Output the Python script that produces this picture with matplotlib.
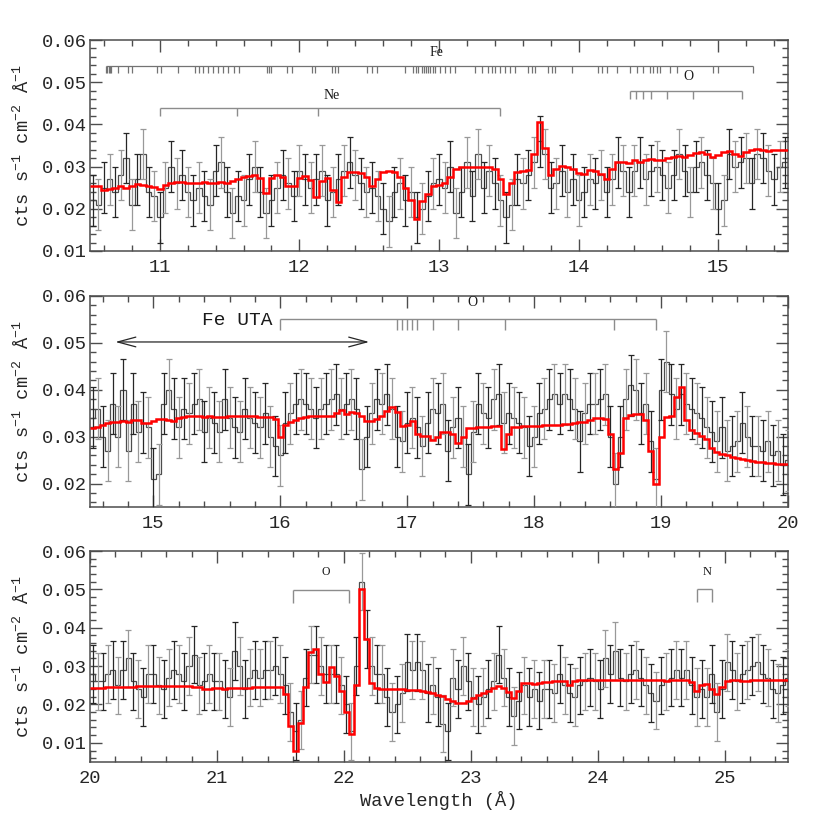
import numpy as np
import matplotlib
matplotlib.use("Agg")
import matplotlib.pyplot as plt
import matplotlib.transforms as mtrans
from matplotlib.ticker import MultipleLocator, FormatStrFormatter

plt.rcParams['font.family'] = ['Liberation Mono', 'DejaVu Sans']
plt.rcParams['mathtext.fontset'] = 'custom'
plt.rcParams['mathtext.rm'] = 'Liberation Mono'
plt.rcParams['mathtext.it'] = 'Liberation Mono'
plt.rcParams['mathtext.default'] = 'rm'

BIN = 0.04  # Angstrom per bin

# ---- panel 1: 10.5 - 15.5 A  (fluxes in 1e-3 cts/s/cm2/A)
start1 = 10.5
flux1 = [22, 21, 25, 27, 24, 28, 32, 21, 27, 33,
         24, 23, 18, 25, 30, 26, 28, 24, 22, 25,
         23, 21, 29, 31, 24, 19, 23, 22, 27, 30,
         24, 19, 22, 25, 28, 26, 23, 29, 27, 25,
         27, 29, 22, 24, 27, 29, 31, 28, 26, 24,
         25, 23, 20, 17, 24, 26, 22, 24, 18, 20,
         23, 26, 27, 25, 30, 19, 24, 31, 23, 33,
         25, 29, 26, 22, 18, 21, 27, 26, 28, 31,
         36, 33, 25, 26, 29, 24, 27, 22, 24, 27,
         26, 28, 24, 27, 31, 29, 24, 29, 31, 27,
         29, 30, 28, 25, 28, 33, 29, 24, 30, 31,
         28, 26, 20, 22, 33, 30, 31, 32, 26, 33,
         32, 29, 27, 30, 31]
model1 = [25.5, 25.3, 24.4, 24.7, 25.0, 25.3, 25.0, 25.5, 25.8, 25.7,
          25.4, 25.2, 24.6, 25.6, 26.2, 26.3, 26.3, 26.1, 26.0, 26.2,
          26.3, 26.0, 26.2, 26.3, 26.2, 26.5, 27.0, 27.5, 27.8, 28.0,
          27.2, 23.8, 27.2, 28.0, 27.5, 25.5, 25.3, 27.3, 27.8, 26.8,
          22.8, 26.5, 27.2, 24.5, 21.5, 27.5, 28.8, 28.8, 28.6, 27.5,
          25.5, 27.0, 28.8, 29.0, 28.8, 27.5, 25.0, 22.0, 17.6, 21.8,
          23.5, 25.5, 25.6, 26.0, 27.5, 29.5, 30.0, 30.0, 30.0, 30.0,
          30.0, 29.8, 29.5, 27.0, 23.5, 26.0, 28.8, 29.0, 29.2, 33.0,
          40.5, 34.5, 28.0, 29.5, 30.2, 30.0, 29.5, 28.5, 28.2, 29.2,
          29.0, 28.2, 27.0, 29.5, 31.0, 31.2, 30.8, 31.5, 31.2, 31.5,
          31.8, 31.5, 31.6, 32.0, 32.3, 32.5, 32.3, 32.8, 33.2, 33.4,
          33.0, 32.2, 32.8, 33.5, 33.8, 33.0, 32.4, 33.4, 34.0, 34.2,
          34.0, 33.8, 34.0, 34.0, 34.0]
err1 = 6.0

# ---- panel 2: 14.5 - 20 A
start2 = 14.5
flux2 = [34, 36, 30, 27, 37, 30, 40, 27, 37, 31,
         33, 32, 21, 22, 37, 40, 36, 32, 36, 35,
         37, 38, 31, 34, 33, 31, 38, 34, 32, 31,
         36, 34, 33, 32, 35, 30, 28, 26, 33, 35,
         37, 38, 37, 36, 34, 36, 37, 38, 39, 36,
         37, 38, 36, 23, 30, 35, 38, 37, 39, 36,
         30, 29, 33, 34, 32, 28, 33, 36, 35, 37,
         27, 32, 34, 30, 22, 31, 37, 35, 34, 38,
         39, 33, 35, 34, 33, 32, 28, 30, 35, 36,
         38, 39, 37, 39, 38, 36, 29, 35, 37, 37,
         38, 39, 30, 20, 30, 38, 41, 40, 35, 37,
         29, 21, 40, 46, 39, 36, 39, 37, 36, 35,
         34, 32, 31, 29, 32, 27, 28, 29, 33, 30,
         28, 28, 27, 29, 26, 27, 24, 25]
model2 = [31.9, 32.1, 32.5, 32.9, 33.2, 33.1, 33.3, 33.2, 33.6, 33.6,
          33.0, 32.9, 33.4, 33.7, 33.8, 33.6, 33.3, 34.0, 34.2, 34.3,
          34.4, 34.3, 34.2, 34.3, 34.2, 34.1, 34.2, 34.3, 34.3, 34.4,
          34.4, 34.3, 34.3, 34.2, 34.2, 34.1, 33.8, 30.0, 32.5, 33.2,
          33.6, 33.9, 34.1, 34.3, 34.4, 34.4, 34.3, 34.4, 35.0, 35.6,
          34.8, 35.2, 35.0, 34.3, 33.4, 33.4, 33.8, 34.5, 35.5, 36.4,
          35.3, 32.2, 32.5, 33.3, 30.6, 30.2, 30.2, 29.3, 30.0, 30.9,
          30.9, 30.5, 28.7, 30.0, 31.8, 31.9, 32.0, 32.0, 32.1, 32.2,
          32.2, 27.3, 30.5, 32.0, 32.1, 32.2, 32.2, 32.3, 32.3, 32.4,
          32.4, 32.5, 32.5, 32.6, 32.8, 33.0, 33.1, 33.2, 33.5, 33.9,
          33.9, 33.7, 30.5, 23.0, 26.5, 34.0, 34.6, 34.8, 34.8, 33.5,
          27.0, 20.0, 30.0, 34.2, 34.5, 38.5, 40.5, 33.5, 31.5, 30.8,
          30.2, 29.6, 27.5, 26.8, 26.3, 26.0, 25.7, 25.4, 25.2, 25.0,
          24.8, 24.6, 24.5, 24.4, 24.3, 24.2, 24.2, 24.2]
err2 = 6.5

# ---- panel 3: 20 - 25.5 A
start3 = 20.0
flux3 = [28, 26, 26, 28, 29, 25, 29, 32, 26, 24,
         22, 28, 28, 25, 24, 27, 29, 28, 26, 30,
         33, 25, 26, 28, 26, 26, 24, 22, 34, 30,
         24, 27, 29, 27, 29, 29, 30, 28, 25, 18,
         13, 16, 27, 33, 33, 30, 28, 28, 28, 25,
         20, 13, 30, 52, 37, 30, 28, 28, 22, 18,
         20, 23, 31, 29, 31, 29, 23, 25, 22, 15,
         13, 27, 24, 30, 26, 22, 20, 22, 24, 26,
         33, 27, 22, 17, 21, 25, 22, 24, 21, 24,
         24, 23, 28, 25, 23, 22, 25, 26, 27, 26,
         24, 32, 28, 34, 27, 26, 28, 29, 27, 25,
         23, 21, 25, 26, 27, 29, 27, 29, 25, 22,
         24, 22, 28, 18, 24, 31, 29, 26, 28, 29,
         30, 31, 28, 27, 24, 23, 25, 27]
model3 = [24.4, 24.4, 24.4, 24.5, 24.5, 24.6, 24.6, 24.6, 24.6, 24.7,
          24.7, 24.7, 24.7, 24.7, 24.7, 24.7, 24.7, 24.7, 24.7, 24.7,
          24.6, 24.5, 24.1, 24.1, 24.2, 24.2, 24.1, 24.3, 24.4, 24.4,
          24.4, 24.4, 24.5, 24.5, 24.5, 24.5, 24.5, 24.5, 22.8, 14.4,
          8.0, 15.3, 24.6, 33.7, 34.5, 28.0, 25.8, 29.7, 27.5, 23.6,
          18.0, 12.2, 25.0, 50.0, 37.2, 25.5, 24.2, 24.0, 24.0, 24.0,
          24.0, 24.0, 23.9, 23.8, 23.7, 23.5, 23.2, 23.0, 22.6, 22.1,
          21.4, 20.9, 20.4, 20.3, 21.0, 21.7, 22.4, 23.0, 23.6, 24.2,
          24.7, 24.2, 23.3, 21.8, 23.5, 25.6, 25.6, 25.3, 25.5, 25.8,
          25.9, 26.0, 26.1, 26.0, 25.0, 26.0, 26.4, 26.4, 26.4, 26.4,
          26.4, 26.4, 26.4, 26.4, 26.3, 26.4, 26.4, 26.4, 26.3, 26.3,
          26.4, 26.4, 26.3, 26.2, 26.4, 26.5, 26.5, 26.3, 25.8, 23.6,
          25.0, 25.3, 24.0, 22.7, 24.5, 26.2, 26.3, 26.3, 26.2, 26.2,
          26.4, 26.5, 26.4, 26.4, 26.5, 26.5, 26.5, 26.5]
err3 = 7.5

# ---- line identifications (A)
fe_lines = [10.615, 10.624, 10.634, 10.643, 10.653, 10.698, 10.774, 10.803,
            10.982, 11.006, 11.133, 11.252, 11.281, 11.312, 11.347, 11.379,
            11.415, 11.455, 11.491, 11.532, 11.569, 11.766, 11.780, 11.794,
            11.909, 11.949, 12.088, 12.112, 12.231, 12.255, 12.279, 12.482,
            12.518, 12.554, 12.757, 12.816, 12.835, 12.852, 12.876, 12.893,
            12.907, 12.921, 12.936, 12.957, 12.971, 13.007, 13.043, 13.079,
            13.115, 13.258, 13.308, 13.351, 13.380, 13.401, 13.437, 13.473,
            13.509, 13.544, 13.637, 13.666, 13.688, 13.781, 13.809, 13.831,
            13.953, 14.139, 14.168, 14.203, 14.275, 14.368, 14.418, 14.461,
            14.511, 14.533, 14.562, 14.583, 14.655, 14.705, 14.963, 14.999,
            15.249]
ne_lines = [11.00, 11.55, 12.13, 13.44]
o_lines1 = [14.37, 14.41, 14.46, 14.52, 14.63, 14.82, 15.17]
o_lines2 = [16.00, 16.92, 16.96, 17.00, 17.04, 17.08, 17.20, 17.40, 17.77,
            18.63, 18.96]
o_lines3 = [21.60, 22.04]
n_lines = [24.78, 24.90]
fe_uta = (14.70, 16.70)

YLAB = r"cts s$^{-1}$ cm$^{-2}$ Å$^{-1}$"
LINE_C = '0.55'


def draw_spectrum(ax, start, flux, model, err):
    flux = np.array(flux) * 1e-3
    model = np.array(model) * 1e-3
    edges = start + BIN * np.arange(len(flux) + 1)
    mid = 0.5 * (edges[:-1] + edges[1:])
    ax.stairs(flux, edges, baseline=None, color='0.3', lw=0.9, zorder=2)
    for k, col in ((0, '0.15'), (1, '0.6')):
        ax.errorbar(mid[k::2], flux[k::2], yerr=err * 1e-3, fmt='none',
                    ecolor=col, elinewidth=0.9, capsize=2.2, capthick=0.9,
                    zorder=3)
    ax.stairs(model, edges, baseline=None, color='red', lw=1.8, zorder=5)


def bracket(ax, lines, y, tick, x0=None, x1=None, color=LINE_C, lw=1.0):
    tr = mtrans.blended_transform_factory(ax.transData, ax.transAxes)
    x0 = min(lines) if x0 is None else x0
    x1 = max(lines) if x1 is None else x1
    ax.plot([x0, x1], [y, y], color=color, lw=lw, transform=tr,
            solid_capstyle='butt', zorder=4)
    ax.vlines(lines, y - tick, y, color=color, lw=lw, transform=tr, zorder=4)


def label(ax, x, y, s, size=10, family='Liberation Serif'):
    tr = mtrans.blended_transform_factory(ax.transData, ax.transAxes)
    ax.text(x, y, s, transform=tr, ha='center', va='center',
            fontsize=size, family=family, color='0.1')


def style(ax, xlim, ylim):
    ax.set_xlim(*xlim)
    ax.set_ylim(*ylim)
    ax.xaxis.set_major_locator(MultipleLocator(1))
    ax.xaxis.set_minor_locator(MultipleLocator(0.2))
    ax.yaxis.set_major_locator(MultipleLocator(0.01))
    ax.yaxis.set_minor_locator(MultipleLocator(0.002))
    ax.yaxis.set_major_formatter(FormatStrFormatter('%.2f'))
    ax.tick_params(which='both', direction='in', top=True, right=True,
                   color='0.3', width=1.0, labelsize=13.5, labelcolor='0.15')
    ax.tick_params(which='major', length=8.5)
    ax.tick_params(which='minor', length=4.5)
    ax.tick_params(axis='x', pad=6)
    ax.tick_params(axis='y', pad=2)
    for sp in ax.spines.values():
        sp.set_color('0.3')
        sp.set_linewidth(1.1)
    ax.set_ylabel(YLAB, fontsize=13.5, color='0.15', va='center')
    ax.yaxis.set_label_coords(-0.097, 0.5)


fig = plt.figure(figsize=(8.3, 8.3), dpi=100)
ax1 = fig.add_axes([0.1084, 0.6976, 0.841, 0.2542])
ax2 = fig.add_axes([0.1084, 0.3892, 0.841, 0.2542])
ax3 = fig.add_axes([0.1084, 0.0819, 0.841, 0.2542])

# panel 1
draw_spectrum(ax1, start1, flux1, model1, err1)
style(ax1, (10.5, 15.5), (0.01, 0.06))
bracket(ax1, fe_lines, 0.877, 0.033, color='0.45', lw=0.9)
label(ax1, 12.985, 0.943, 'Fe')
bracket(ax1, ne_lines, 0.678, 0.038)
label(ax1, 12.23, 0.739, 'Ne')
bracket(ax1, o_lines1, 0.758, 0.038)
label(ax1, 14.79, 0.825, 'O')

# panel 2
draw_spectrum(ax2, start2, flux2, model2, err2)
style(ax2, (14.5, 20.0), (0.015, 0.06))
bracket(ax2, o_lines2, 0.891, 0.052)
label(ax2, 17.51, 0.967, 'O')
tr2 = mtrans.blended_transform_factory(ax2.transData, ax2.transAxes)
ax2.annotate('', xy=(fe_uta[0], 0.782), xytext=(fe_uta[1], 0.782),
             xycoords=tr2, textcoords=tr2,
             arrowprops=dict(arrowstyle='<->,head_length=1.3,head_width=0.35',
                             color='0.15', lw=0.9, shrinkA=0, shrinkB=0))
label(ax2, 15.66, 0.882, 'Fe UTA', size=14, family='Liberation Mono')

# panel 3
draw_spectrum(ax3, start3, flux3, model3, err3)
style(ax3, (20.0, 25.5), (0.005, 0.06))
bracket(ax3, o_lines3, 0.815, 0.06)
label(ax3, 21.86, 0.902, 'O', size=8.5)
bracket(ax3, n_lines, 0.818, 0.06)
label(ax3, 24.86, 0.902, 'N', size=9)
ax3.set_xlabel('Wavelength (Å)', fontsize=13.5, color='0.15', va='center')
ax3.xaxis.set_label_coords(0.5, -0.18)

fig.savefig('out.png', dpi=100, facecolor='white')
